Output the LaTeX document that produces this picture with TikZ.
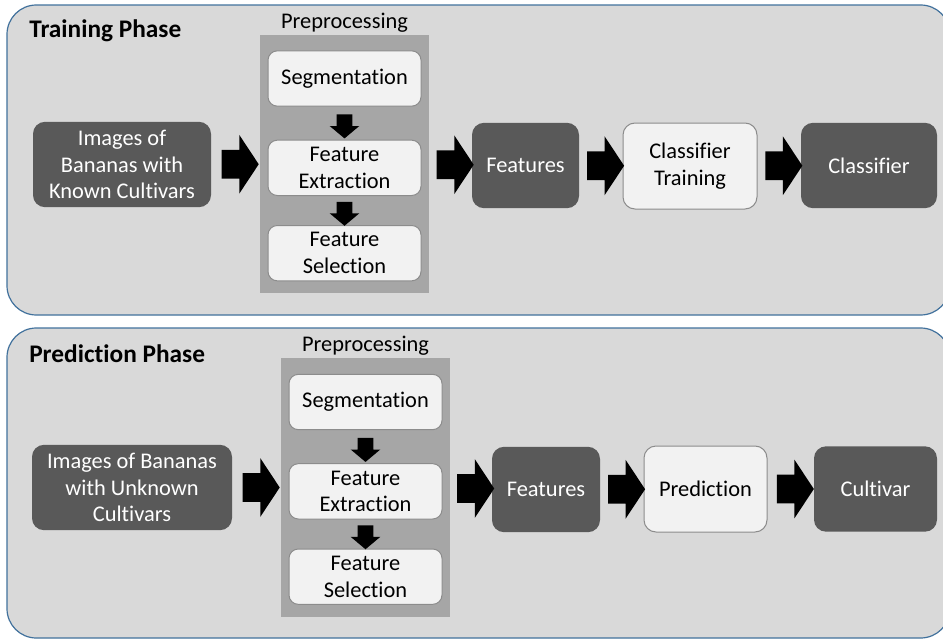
\documentclass[tikz,border=0pt]{standalone}
\usepackage{fontspec}
\setmainfont{Carlito}[Ligatures={NoCommon,NoContextual},Contextuals=NoAlternate]
\usetikzlibrary{positioning,calc,shapes.arrows}
\definecolor{phasefill}{HTML}{D9D9D9}
\definecolor{phaseline}{HTML}{41719C}
\definecolor{prefill}{HTML}{A6A6A6}
\definecolor{darkbox}{HTML}{595959}
\definecolor{lightbox}{HTML}{F2F2F2}
\definecolor{lightline}{HTML}{8C8C8C}
\begin{document}
\begin{tikzpicture}
    [x=0.75pt, y=-0.75pt,
    every node/.style={font=\fontsize{16.8}{20}\selectfont},
    phase/.style={fill=phasefill, draw=phaseline, line width=0.9pt, rounded corners=22pt},
    prepanel/.style={fill=prefill, inner sep=0pt, minimum width=126.75pt, minimum height=193.5pt},
    dark/.style={fill=darkbox, text=white, rounded corners=9pt, align=center, inner sep=0pt, minimum height=64pt},
    light/.style={fill=lightbox, draw=lightline, line width=0.75pt, rounded corners=9pt, align=center, inner sep=0pt, minimum height=64.5pt},
    step box/.style={light, minimum width=114.75pt, minimum height=41.5pt, rounded corners=7pt},
    title/.style={font=\fontsize{19}{22}\selectfont\bfseries, anchor=base west, inner sep=0pt},
    harrow/.style={single arrow, fill=black, inner sep=0pt, text height=21pt, text depth=0pt,
      single arrow head extend=11.25pt, minimum height=27.75pt, single arrow tip angle=113},
    varrow/.style={single arrow, fill=black, inner sep=0pt, rotate=-90, text height=11.25pt, text depth=0pt,
      single arrow head extend=5.25pt, minimum height=18pt, single arrow tip angle=100}]
    \useasboundingbox (0,0) rectangle (943,639);
    % training
    \draw[phase] (7,5) rectangle (950,315);
    \node[title] (train) at (29,37) {Training Phase};
    \node[prepanel] (pre1) at (344.5,164) {};
    \node[above=1.5pt of pre1, inner sep=0pt] (prelab1) {Preprocessing};
    \node[step box] (seg1) at (344.5,78.5) {Segmentation};
    \node[step box, below=24.75pt of seg1] (ext1) {Feature\\Extraction};
    \node[step box, below=21.75pt of ext1] (sel1) {Feature\\Selection};
    \node[dark, minimum width=133.5pt] (img1) at (122,164.5) {Images of\\Bananas with\\Known Cultivars};
    \node[dark, minimum width=80.25pt] (feat1) at (525.5,165.5) {Features};
    \node[light, minimum width=100.5pt] (ctr1) at (690,166) {Classifier\\Training};
    \node[dark, minimum width=102pt] (cls1) at (869,165.5) {Classifier};
    \node[varrow] (d11) at ($(seg1.south)!0.5!(ext1.north)$) {};
    \node[varrow] (d12) at ($(ext1.south)!0.5!(sel1.north)$) {};
    \node[harrow] (r11) at ($(img1.east)!0.5!(pre1.west)$) {};
    \node[harrow] (r12) at ($(pre1.east)!0.5!(feat1.west)$) {};
    \node[harrow] (r13) at ($(feat1.east)!0.5!(ctr1.west)$) {};
    \node[harrow] (r14) at ($(ctr1.east)!0.5!(cls1.west)$) {};
    % prediction
    \draw[phase] (7,328) rectangle (950,638);
    \node[title] (predict) at (29,362) {Prediction Phase};
    \node[prepanel, minimum height=194.25pt] (pre2) at (365.5,487.5) {};
    \node[above=1.5pt of pre2, inner sep=0pt] (prelab2) {Preprocessing};
    \node[step box] (seg2) at (365.5,402) {Segmentation};
    \node[step box, below=24.75pt of seg2] (ext2) {Feature\\Extraction};
    \node[step box, below=21.75pt of ext2] (sel2) {Feature\\Selection};
    \node[dark, minimum width=150pt] (img2) at (132,487.5) {Images of Bananas\\with Unknown\\Cultivars};
    \node[dark, minimum width=81pt] (feat2) at (546,489.5) {Features};
    \node[light, minimum width=92.25pt] (pred2) at (705.5,489) {Prediction};
    \node[dark, minimum width=92.25pt] (cult2) at (875.5,489) {Cultivar};
    \node[varrow] (d21) at ($(seg2.south)!0.5!(ext2.north)$) {};
    \node[varrow] (d22) at ($(ext2.south)!0.5!(sel2.north)$) {};
    \node[harrow] (r21) at ($(img2.east)!0.5!(pre2.west)$) {};
    \node[harrow] (r22) at ($(pre2.east)!0.5!(feat2.west)$) {};
    \node[harrow] (r23) at ($(feat2.east)!0.5!(pred2.west)$) {};
    \node[harrow] (r24) at ($(pred2.east)!0.5!(cult2.west)$) {};
\end{tikzpicture}
\end{document}
